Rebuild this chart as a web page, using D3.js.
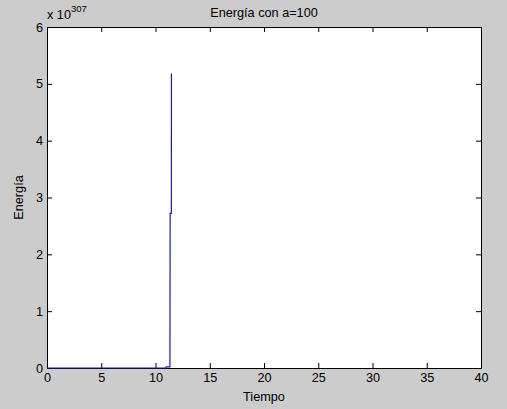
<!DOCTYPE html>
<html><head><meta charset="utf-8">
<script src="https://cdn.jsdelivr.net/npm/d3@7"></script>
<style>
html,body{margin:0;padding:0;background:#cccccc;}
svg{display:block;}
text{font-family:"Liberation Sans",Arial,sans-serif;fill:#000;}
</style></head>
<body>
<script>
// data (energy in units of 1e307)
const tiempo  = [0, 10.95, 11.0, 11.33, 11.35, 11.46, 11.47];
const energia = [0, 0, 0.02, 0.02, 2.72, 2.72, 5.18];
const xTicks = [0, 5, 10, 15, 20, 25, 30, 35, 40];
const yTicks = [0, 1, 2, 3, 4, 5, 6];
const titulo = "Energía con a=100";
const xLabel = "Tiempo";
const yLabel = "Energía";
const exponente = "307";

const W = 507, H = 409;
const L = 47, R = 481, T = 27, B = 368;

const svg = d3.select("body").append("svg").attr("width", W).attr("height", H);
svg.append("rect").attr("width", W).attr("height", H).attr("fill", "#cccccc");

const x = d3.scaleLinear().domain([0, 40]).range([L, R]);
const y = d3.scaleLinear().domain([0, 6]).range([B, T]);

svg.append("rect").attr("x", L).attr("y", T).attr("width", R - L).attr("height", B - T)
  .attr("fill", "#ffffff");

const line = d3.line().x((d, i) => x(tiempo[i])).y((d, i) => y(energia[i]));

// axes
const fs = 12.7;
const fmt = d3.format("d");
const gx = svg.append("g").attr("transform", `translate(0,${B})`)
  .call(d3.axisBottom(x).tickValues(xTicks).tickFormat(fmt).tickSizeInner(-5).tickSizeOuter(0).tickPadding(5));
const gxt = svg.append("g").attr("transform", `translate(0,${T})`)
  .call(d3.axisTop(x).tickValues(xTicks).tickSizeInner(-5).tickSizeOuter(0).tickFormat(""));
const gy = svg.append("g").attr("transform", `translate(${L},0)`)
  .call(d3.axisLeft(y).tickValues(yTicks).tickFormat(fmt).tickSizeInner(-5).tickSizeOuter(0).tickPadding(4));
const gyr = svg.append("g").attr("transform", `translate(${R},0)`)
  .call(d3.axisRight(y).tickValues(yTicks).tickSizeInner(-5).tickSizeOuter(0).tickFormat(""));

[gx, gxt, gy, gyr].forEach(g => {
  g.select(".domain").attr("stroke", "#000").attr("stroke-width", 1);
  g.selectAll(".tick line").attr("stroke", "#000");
  g.selectAll("text").attr("font-size", fs).attr("font-family", '"Liberation Sans",Arial,sans-serif').attr("fill", "#000");
});

// data line on top of the axis frame
svg.append("path").datum(energia).attr("d", line)
  .attr("fill", "none").attr("stroke", "#1a1aa8").attr("stroke-width", 1.2);

// exponent label
const ex = svg.append("text").attr("x", L).attr("y", 19).attr("font-size", fs);
ex.append("tspan").text("x 10");
ex.append("tspan").attr("dy", -7).attr("font-size", 9.5).text(exponente);

// title
svg.append("text").attr("x", (L + R) / 2).attr("y", 17).attr("text-anchor", "middle")
  .attr("font-size", fs).text(titulo);
// x label
svg.append("text").attr("x", (L + R) / 2).attr("y", 401).attr("text-anchor", "middle")
  .attr("font-size", fs).text(xLabel);
// y label
svg.append("text").attr("transform", `translate(23,${(T + B) / 2}) rotate(-90)`)
  .attr("text-anchor", "middle").attr("font-size", fs).text(yLabel);
</script>
</body></html>
